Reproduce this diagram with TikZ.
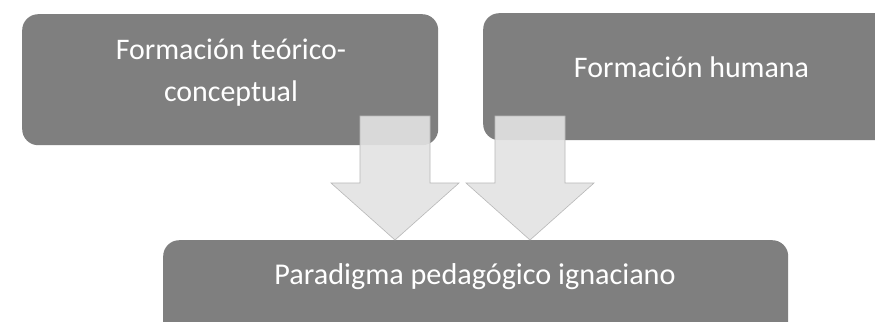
\documentclass[tikz,border=0pt]{standalone}
\usepackage{fontspec}
\setmainfont{Carlito}
\definecolor{boxgray}{HTML}{7F7F7F}
\definecolor{arrgray}{HTML}{E3E3E3}
\definecolor{edgegray}{HTML}{B8B8B8}
\begin{document}
\begin{tikzpicture}[x=1bp,y=-1bp,
  box/.style={fill=boxgray, draw=none, rounded corners=16bp, inner sep=0pt, anchor=north west},
  lbl/.style={text=white, align=center, inner sep=0pt, anchor=base},
  small/.style={font=\fontsize{30}{42}\selectfont},
  big/.style={font=\fontsize{30.3}{36}\selectfont},
  arr/.style={fill=arrgray, fill opacity=0.9, draw=edgegray, line width=0.6bp, line join=miter},
  downarrow/.pic={\draw[arr] (-35,0) -- (35,0) -- (35,67) -- (64,67) -- (0,124) -- (-64,67) -- (-35,67) -- cycle;}]
\useasboundingbox (0,0) rectangle (875,321);
\clip (0,0) rectangle (875,321);
\fill[white] (0,0) rectangle (875,321);
\node[box, minimum width=416bp, minimum height=131bp] (b1) at (22,14) {};
\node[box, minimum width=420bp, minimum height=127bp] (b2) at (483,13) {};
\node[box, minimum width=625bp, minimum height=127bp] (b3) at (163,240) {};
\node[lbl, small] (t1) at (231,101.7) {Formación teórico-\\conceptual};
\node[lbl, small] (t2) at (691.5,77) {Formación humana};
\node[lbl, big] (t3) at (475,284) {Paradigma pedagógico ignaciano};
\pic at (395,116) {downarrow};
\pic at (530,116) {downarrow};
\end{tikzpicture}
\end{document}
